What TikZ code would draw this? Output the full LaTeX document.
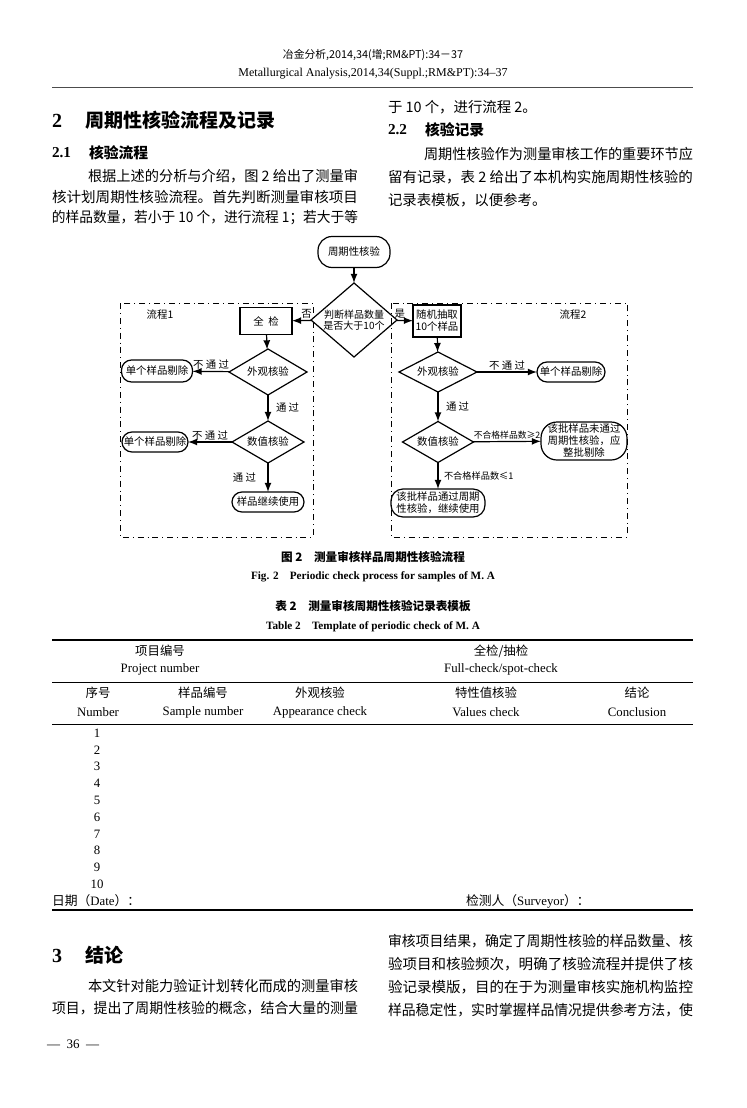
\documentclass[tikz,border=0pt]{standalone}
\usepackage{fontspec}
\usepackage{graphicx}
\setmainfont{Liberation Serif}
\newfontfamily\cjk{Noto Sans CJK SC}
\usetikzlibrary{shapes,arrows,positioning}
\newcommand\fsz[2]{\fontsize{#1}{#2}\selectfont}
% one line of a column, brought to the column width
\newcommand\jline[2]{\resizebox{#1}{\height}{#2}}

\begin{document}
\begin{tikzpicture}[
				x = 0.5pt, y = -0.5pt, >=latex,
				every node/.style = {inner sep = 0pt, outer sep = 0pt},
				txt/.style = {anchor = west, font = \cjk\fsz{7.2}{8.5}},
				hd/.style = {anchor = west, font = \cjk\bfseries\fsz{9.5}{10}},
				sub/.style = {anchor = west, font = \cjk\bfseries\fsz{7.4}{8}},
				num/.style = {anchor = west, font = \bfseries\fsz{7.6}{8}},
				capzh/.style = {font = \cjk\bfseries\fsz{5.8}{6.5}},
				capen/.style = {font = \bfseries\fsz{5.6}{6.5}},
				cell/.style = {font = \cjk\fsz{6.2}{7}},
				ecell/.style = {font = \fsz{6.4}{7}},
				proc/.style = {draw, line width = 0.6pt, align = center, font = \cjk\fsz{5.2}{6}},
				term/.style = {proc, rounded corners = 5pt},
				dec/.style = {proc, diamond, aspect = 2},
				lbl/.style = {font = \cjk\fsz{5.2}{6}},
				frame/.style = {draw, dash dot, line width = 0.5pt},
				flow/.style = {->, line width = 0.6pt},
				rule/.style = {line width = 0.35pt},
				thickrule/.style = {line width = 0.75pt}
				]
				\fill[white] (0,0) rectangle (746,1108);
				\useasboundingbox (0,0) rectangle (746,1108);
				
				% running head
				\node[font = \cjk\fsz{5.4}{6}] (headA) at (373,55) {冶金分析,2014,34(增;RM\&PT):34－37};
				\node[font = \fsz{6}{7}] (headB) at (373,74) {Metallurgical Analysis,2014,34(Suppl.;RM\&PT):34--37};
				\draw[rule, black!70] (52,87) -- (693,87);
				
				% section 2, left column
				\node[num, font = \bfseries\fsz{10}{11}] (secII) at (52,121) {2};
				\node[hd] (secIItitle) at (85,120) {周期性核验流程及记录};
				\node[num] (subI) at (52,153) {2.1};
				\node[sub] (subItitle) at (89,153) {核验流程};
				\node[txt] (pa1) at (88,176) {\jline{135pt}{根据上述的分析与介绍，图 2 给出了测量审}};
				\node[txt] (pa2) at (52,197) {\jline{153pt}{核计划周期性核验流程。首先判断测量审核项目}};
				\node[txt] (pa3) at (52,218) {\jline{153pt}{的样品数量，若小于 10 个，进行流程 1；若大于等}};
				
				% right column
				\node[txt] (pb1) at (388,107) {于 10 个，进行流程 2。};
				\node[num] (subII) at (388,130) {2.2};
				\node[sub] (subIItitle) at (425,130) {核验记录};
				\node[txt] (pb2) at (424,154) {\jline{134.5pt}{周期性核验作为测量审核工作的重要环节应}};
				\node[txt] (pb3) at (388,177) {\jline{152.5pt}{留有记录，表 2 给出了本机构实施周期性核验的}};
				\node[txt] (pb4) at (388,200) {记录表模板，以便参考。};
				
				% flow chart
				\draw[frame] (120,303) rectangle (313,537);
				\draw[frame] (391,303) rectangle (627,537);
				\node[lbl] (flowI) at (160,315) {流程1};
				\node[lbl] (flowII) at (573,315) {流程2};
				
				\node[term, minimum width = 36pt, minimum height = 15.5pt, rounded corners = 7pt] (start) at (354,252) {周期性核验};
				\node[dec, aspect = 1.16, minimum width = 43pt, minimum height = 37pt, font = \cjk\fsz{5}{5.8}] (judge) at (354,320) {判断样品数量\\是否大于10个};
				\node[proc, minimum width = 26pt, minimum height = 13.5pt] (full) at (266,321) {全\ \ 检};
				\node[proc, minimum width = 24pt, minimum height = 16pt] (rand) at (437,321) {随机抽取\\10个样品};
				
				\node[dec, minimum width = 39pt, minimum height = 23pt] (lookA) at (268,372) {外观核验};
				\node[term, minimum width = 35.5pt, minimum height = 11pt] (dropA) at (157,371) {单个样品剔除};
				\node[dec, minimum width = 36pt, minimum height = 21pt] (valA) at (268,442) {数值核验};
				\node[term, minimum width = 33pt, minimum height = 10pt] (dropB) at (155,442) {单个样品剔除};
				\node[term, minimum width = 36pt, minimum height = 10pt] (keepA) at (268,502) {样品继续使用};
				
				\node[dec, minimum width = 39pt, minimum height = 20pt] (lookB) at (438,372) {外观核验};
				\node[term, minimum width = 34pt, minimum height = 10pt] (dropC) at (571,372) {单个样品剔除};
				\node[dec, minimum width = 35.5pt, minimum height = 20.5pt] (valB) at (438,442) {数值核验};
				\node[term, minimum width = 43pt, minimum height = 19pt, rounded corners = 8pt] (failB) at (584,441) {该批样品未通过\\周期性核验，应\\整批剔除};
				\node[term, minimum width = 47pt, minimum height = 14pt, rounded corners = 6pt] (passB) at (438,503) {该批样品通过周期\\性核验，继续使用};
				
				\draw[flow] (start) -- (judge);
				\draw[flow] (judge) -- node[lbl, above = 1pt, pos = 0.25] (no) {否} (full);
				\draw[flow] (judge) -- node[lbl, above = 1pt, pos = 0.2] (yes) {是} (rand);
				\draw[flow] (full) -- (lookA);
				\draw[flow] (lookA) -- node[lbl, above = 1pt] (failLookA) {不 通 过} (dropA);
				\draw[flow] (lookA) -- node[lbl, right = 4pt] (passLookA) {通 过} (valA);
				\draw[flow] (valA) -- node[lbl, above = 1pt] (failValA) {不 通 过} (dropB);
				\draw[flow] (valA) -- node[lbl, left = 6pt] (passValA) {通 过} (keepA);
				\draw[flow] (rand) -- (lookB);
				\draw[flow] (lookB) -- node[lbl, above = 1pt] (failLookB) {不 通 过} (dropC);
				\draw[flow] (lookB) -- node[lbl, right = 4pt] (passLookB) {通 过} (valB);
				\draw[flow] (valB) -- node[lbl, above = 1pt, font = \cjk\fsz{4.4}{5}] (manyBad) {不合格样品数≥2} (failB);
				\draw[flow] (valB) -- node[lbl, right = 3pt, font = \cjk\fsz{4.6}{5}] (fewBad) {不合格样品数≤1} (passB);
				
				% captions
				\node[capzh] (figcap) at (373,557) {图 2\quad 测量审核样品周期性核验流程};
				\node[capen] (figcapEn) at (373,577) {Fig. 2\quad Periodic check process for samples of M. A};
				\node[capzh] (tabcap) at (373,606) {表 2\quad 测量审核周期性核验记录表模板};
				\node[capen] (tabcapEn) at (373,627) {Table 2\quad Template of periodic check of M. A};
				
				% table
				\draw[thickrule] (52,640) -- (693,640);
				\node[cell] (projZh) at (160,651) {项目编号};
				\node[ecell] (projEn) at (160,669) {Project number};
				\node[cell] (modeZh) at (501,651) {全检/抽检};
				\node[ecell] (modeEn) at (501,669) {Full-check/spot-check};
				\draw[rule] (52,682) -- (693,682);
				\node[cell] (noZh) at (98,693) {序号};
				\node[ecell] (noEn) at (98,712) {Number};
				\node[cell] (smpZh) at (203,693) {样品编号};
				\node[ecell] (smpEn) at (203,712) {Sample number};
				\node[cell] (appZh) at (320,693) {外观核验};
				\node[ecell] (appEn) at (320,712) {Appearance check};
				\node[cell] (valZh) at (486,693) {特性值核验};
				\node[ecell] (valEn) at (486,712) {Values check};
				\node[cell] (conZh) at (637,693) {结论};
				\node[ecell] (conEn) at (637,712) {Conclusion};
				\draw[rule] (52,724) -- (693,724);
				\foreach \i in {1,...,10}
					\node[ecell] (row\i) at (97,{733+16.8*(\i-1)}) {\i};
				\node[ecell, anchor = west] (date) at (52,901) {{\cjk 日期（}Date{\cjk ）：}};
				\node[ecell, anchor = west] (surveyor) at (466,901) {{\cjk 检测人（}Surveyor{\cjk ）：}};
				\draw[thickrule] (52,910) -- (693,910);
				
				% section 3
				\node[num, font = \bfseries\fsz{10}{11}] (secIII) at (52,956) {3};
				\node[hd] (secIIItitle) at (85,955) {结论};
				\node[txt] (pc1) at (88,986) {\jline{135pt}{本文针对能力验证计划转化而成的测量审核}};
				\node[txt] (pc2) at (52,1008) {\jline{153pt}{项目，提出了周期性核验的概念，结合大量的测量}};
				\node[txt] (pd1) at (388,941) {\jline{152.5pt}{审核项目结果，确定了周期性核验的样品数量、核}};
				\node[txt] (pd2) at (388,964) {\jline{152.5pt}{验项目和核验频次，明确了核验流程并提供了核}};
				\node[txt] (pd3) at (388,987) {\jline{152.5pt}{验记录模版，目的在于为测量审核实施机构监控}};
				\node[txt] (pd4) at (388,1010) {\jline{152.5pt}{样品稳定性，实时掌握样品情况提供参考方法，使}};
				
				\node[font = \fsz{6.5}{7}] (folio) at (73,1044) {---\ \ 36\ \ ---};
			\end{tikzpicture}
\end{document}
